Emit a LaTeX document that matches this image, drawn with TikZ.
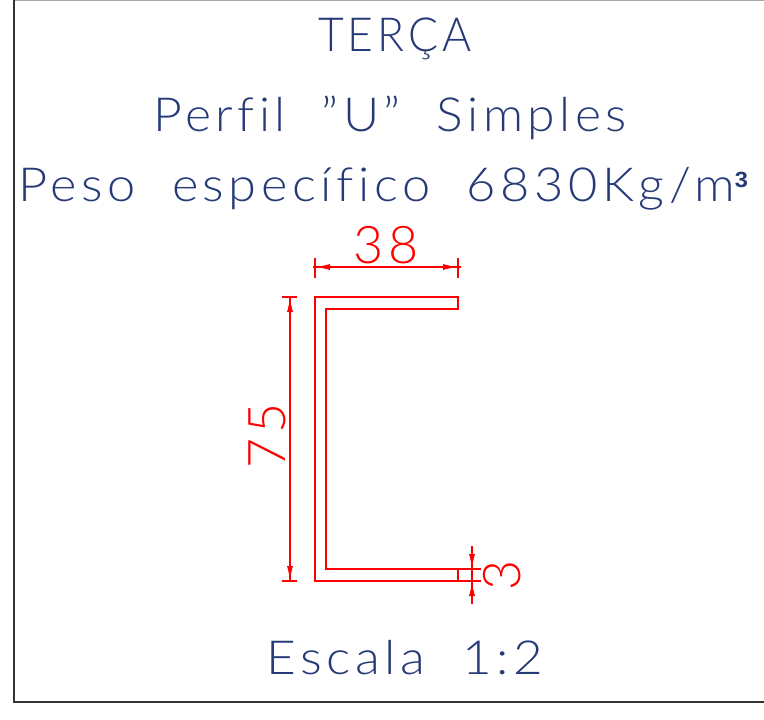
\documentclass[tikz,border=0pt]{standalone}
\usepackage{fontspec}
\setmainfont{Lato Light}[LetterSpace=9,Ligatures=NoCommon]
\newfontfamily\boldsup{Liberation Sans}
\usetikzlibrary{arrows.meta,calc}
\definecolor{titleblue}{RGB}{38,58,120}
\definecolor{dimred}{RGB}{255,0,0}
\tikzset{
  titletext/.style={text=titleblue,inner sep=0pt,font=\fontsize{47}{47}\selectfont},
  dimtext/.style={text=dimred,inner sep=0pt,font=\fontsize{52}{52}\selectfont},
  profile/.style={draw=dimred,line width=1.8pt,line join=miter},
  dimline/.style={draw=dimred,line width=1.2pt},
  dimarrow/.style={dimline,-{Latex[length=15pt,width=6pt]}},
  frameline/.style={draw=black!80,line width=1.6pt}
}
\begin{document}
\begin{tikzpicture}[x=1pt,y=-1pt]
\useasboundingbox (0,0) rectangle (764,720);
% frame
\draw[draw=black!35,line width=1pt] (14,0) -- (764,0);
\coordinate (ftop) at (14,0);
\coordinate (fcorner) at (14,702);
\coordinate (fright) at (764,702);
\draw[frameline] (ftop) -- (fcorner) -- (fright);
% texts
\node[titletext] (t1) at (395,39) {\scalebox{0.945}[1]{TERÇA}};
\node[titletext] (t2) at (390,118) {\scalebox{1.06}[1]{Perfil \ ”U” \ Simples}};
\node[titletext,anchor=west] (t3) at (18,189) {\scalebox{1.075}[1]{Peso \ específico \ 6830Kg/m{\boldsup\bfseries\fontsize{22}{22}\selectfont\raisebox{14pt}{3}}}};
\node[titletext] (t4) at (405,658) {\scalebox{1.09}[1]{Escala \ 1:2}};
% profile
\coordinate (oTL) at (315,297);
\coordinate (oTR) at (458,297);
\coordinate (iTR) at (458,309);
\coordinate (iTL) at (326,309);
\coordinate (iBL) at (326,569);
\coordinate (iBR) at (481,569);
\coordinate (oBR) at (481,581);
\coordinate (oBL) at (315,581);
\draw[profile] (oBR) -- (oBL) -- (oTL) -- (oTR) -- (iTR) -- (iTL) -- (iBL) -- (iBR);
\coordinate (bT) at (458,569);
\coordinate (bB) at (458,581);
\draw[profile] (bT) -- (bB);
% dim 38
\coordinate (a1) at (313,267);
\coordinate (a2) at (461,267);
\coordinate (a3) at (315,267);
\coordinate (a4) at (458,267);
\draw[dimline] (a1) -- (a2);
\draw[dimarrow] ($(a3)+(15,0)$) -- (a3);
\draw[dimarrow] ($(a4)+(-15,0)$) -- (a4);
\draw[dimline] (315,258) -- (315,278);
\draw[dimline] (458,258) -- (458,278);
\node[dimtext] (d38) at (386,245) {38};
% dim 75
\coordinate (b1) at (290,297);
\coordinate (b2) at (290,581);
\draw[dimline] (b1) -- (b2);
\draw[dimarrow] ($(b1)+(0,15)$) -- (b1);
\draw[dimarrow] ($(b2)+(0,-15)$) -- (b2);
\draw[dimline] (282,297) -- (297,297);
\draw[dimline] (282,581) -- (297,581);
\node[dimtext,rotate=90] (d75) at (267,436) {75};
% dim 3
\coordinate (c0) at (472,546);
\coordinate (c1) at (472,569);
\coordinate (c2) at (472,581);
\coordinate (c3) at (472,604);
\draw[dimline] (c0) -- (c3);
\draw[dimarrow] (c0) -- (c1);
\draw[dimarrow] (c3) -- (c2);
\node[dimtext,rotate=90] (d3) at (502,575) {3};
\end{tikzpicture}
\end{document}
